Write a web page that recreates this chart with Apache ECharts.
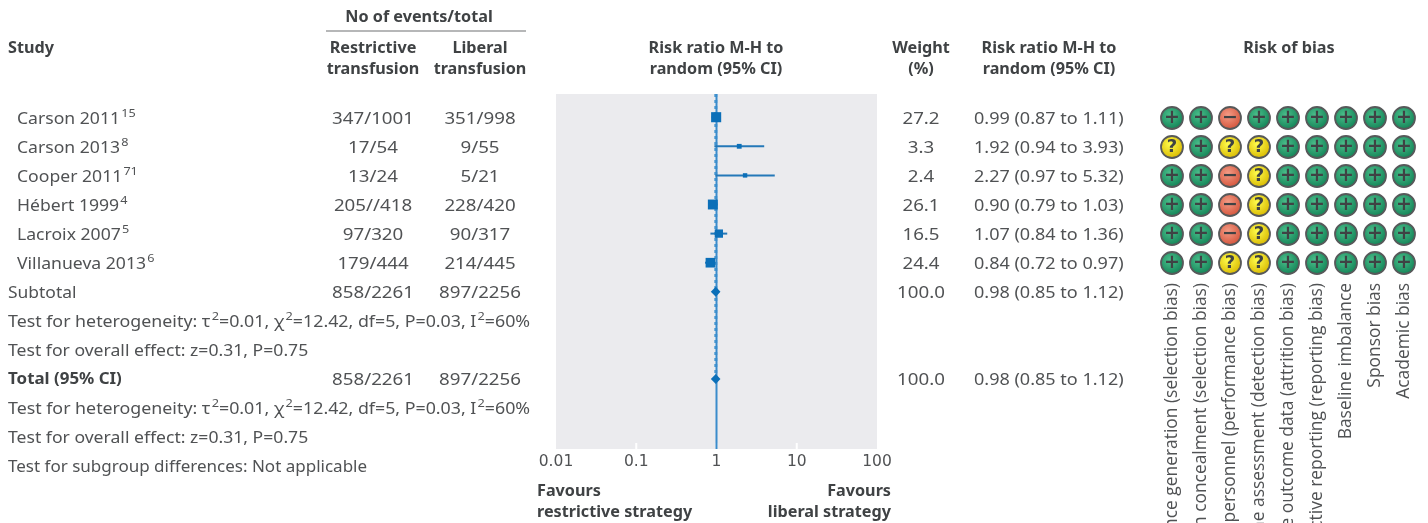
<!DOCTYPE html>
<html><head><meta charset="utf-8">
<style>html,body{margin:0;padding:0;background:#fff}#c{width:1428px;height:523px}</style>
<script src="https://cdn.jsdelivr.net/npm/echarts@6/dist/echarts.min.js"></script>
</head><body><div id="c"></div>
<script>
const studies = ['Carson 2011','Carson 2013','Cooper 2011','Hébert 1999','Lacroix 2007','Villanueva 2013'];
const refs = ['15','8','71','4','5','6'];
const restrictive = ['347/1001','17/54','13/24','205//418','97/320','179/444'];
const liberal = ['351/998','9/55','5/21','228/420','90/317','214/445'];
const weights = [27.2,3.3,2.4,26.1,16.5,24.4];
const rr = [0.99,1.92,2.27,0.90,1.07,0.84];
const lo = [0.87,0.94,0.97,0.79,0.84,0.72];
const hi = [1.11,3.93,5.32,1.03,1.36,0.97];
const pooled = [[6,0.98,0.85,1.12],[9,0.98,0.85,1.12]];
const domains = ['Random sequence generation (selection bias)','Allocation concealment (selection bias)','Blinding of participants and personnel (performance bias)','Blinding of outcome assessment (detection bias)','Incomplete outcome data (attrition bias)','Selective reporting (reporting bias)','Baseline imbalance','Sponsor bias','Academic bias'];
const bias = ['++-++++++','?+??+++++','++-?+++++','++-?+++++','++-?+++++','++??+++++'];
const hetero = 'Test for heterogeneity: τ{sup|2}=0.01, χ{sup|2}=12.42, df=5, P=0.03, I{sup|2}=60%';
const overall = 'Test for overall effect: z=0.31, P=0.75';
const subgroup = 'Test for subgroup differences: Not applicable';
const ticks = [0.01,0.1,1,10,100];

const FONT='"Noto Sans"', TXT='#505254', BOLD='#3f4244', BLUE='#0b6fb8';
const rowH=29.1, row0=117.2, gridTop=94, gridBottom=449;
const ty=i=>119+29*i;
const g=[];
const S_NUM=1.17, S_CI=1.127, S_TXT=1.10, S_BOLD=1.045;
function t(text,x,y,align,bold,sx){
  g.push({type:'text',silent:true,x,y,scaleX:sx||(bold?S_BOLD:S_TXT),style:{text,align:align||'left',verticalAlign:'middle',
    fontFamily:FONT,fontSize:bold?15.5:16,fontWeight:bold?700:400,fill:bold?BOLD:TXT,
    rich:{sup:{fontFamily:FONT,fontSize:11.5,fill:TXT,verticalAlign:'top',lineHeight:22,padding:[0,0,0,1]}},lineHeight:22}});
}
t('No of events/total',419,18,'center',1);
t('Study',8,49,'left',1);
t('Restrictive',373,49,'center',1); t('transfusion',373,70,'center',1);
t('Liberal',480,49,'center',1); t('transfusion',480,70,'center',1);
t('Risk ratio M-H to',716,49,'center',1); t('random (95% CI)',716,70,'center',1);
t('Weight',921,49,'center',1); t('(%)',921,70,'center',1);
t('Risk ratio M-H to',1049,49,'center',1); t('random (95% CI)',1049,70,'center',1);
t('Risk of bias',1289,49,'center',1);
g.push({type:'line',silent:true,shape:{x1:326,y1:31,x2:526,y2:31},style:{stroke:'#6f7173',lineWidth:1.2}});
const f2=v=>v.toFixed(2);
const ci=(m,a,b)=>`${f2(m)} (${f2(a)} to ${f2(b)})`;
studies.forEach((s,i)=>{
  t(`${s}{sup|${refs[i]}}`,17,ty(i));
  t(restrictive[i],373,ty(i),'center',0,S_NUM);
  t(liberal[i],480,ty(i),'center',0,S_NUM);
  t(weights[i].toFixed(1),921,ty(i),'center',0,S_NUM);
  t(ci(rr[i],lo[i],hi[i]),974,ty(i),'left',0,S_CI);
});
t('Subtotal',8,ty(6),'left',0,1.09);
t('858/2261',373,ty(6),'center',0,S_NUM); t('897/2256',480,ty(6),'center',0,S_NUM);
t('100.0',921,ty(6),'center',0,S_NUM); t(ci(0.98,0.85,1.12),974,ty(6),'left',0,S_CI);
t(hetero,8,ty(7),'left',0,1.112); t(overall,8,ty(8),'left',0,1.10);
t('Total (95% CI)',8,ty(9),'left',1,1.09);
t('858/2261',373,ty(9),'center',0,S_NUM); t('897/2256',480,ty(9),'center',0,S_NUM);
t('100.0',921,ty(9),'center',0,S_NUM); t(ci(0.98,0.85,1.12),974,ty(9),'left',0,S_CI);
t(hetero,8,ty(10),'left',0,1.112); t(overall,8,ty(11),'left',0,1.10); t(subgroup,8,ty(12),'left',0,1.063);
t('Favours',537,492,'left',1); t('restrictive strategy',537,513,'left',1);
t('Favours',891,492,'right',1); t('liberal strategy',891,513,'right',1);

const yMin=(gridTop-row0)/rowH, yMax=(gridBottom-row0)/rowH;
const grad=(a,b)=>({type:'radial',x:0.42,y:0.38,r:0.62,colorStops:[{offset:0,color:a},{offset:1,color:b}]});
const fills={'+':grad('#4cc08c','#128256'),'?':grad('#fffc4d','#d8b800'),'-':grad('#f39c86','#d4533a')};
const marks={'+':['+',19],'?':['?',18],'-':['−',19]};
const biasData=[];
bias.forEach((r,i)=>[...r].forEach((c,j)=>biasData.push({value:[j,i],itemStyle:{color:fills[c]},label:{formatter:marks[c][0],fontSize:marks[c][1]}})));

const chart=echarts.init(document.getElementById('c'),null,{renderer:'canvas'});
chart.setOption({
  animation:false,
  graphic:g,
  grid:[
    {left:556,width:321,top:gridTop,height:gridBottom-gridTop,show:true,backgroundColor:'#ebebee',borderWidth:0,outerBoundsMode:'none'},
    {left:1157.5,width:261,top:103.5,height:174,show:false,outerBoundsMode:'none'}
  ],
  xAxis:[
    {type:'log',logBase:10,min:ticks[0],max:ticks[ticks.length-1],gridIndex:0,position:'bottom',
      axisLine:{show:false,onZero:false},splitLine:{show:false},minorTick:{show:false},axisTick:{show:false},
      axisLabel:{fontFamily:'"DejaVu Sans"',fontSize:15.5,color:TXT,margin:5,showMinLabel:true,showMaxLabel:true,hideOverlap:false,formatter:v=>String(v)}},
    {type:'category',gridIndex:1,data:domains,axisLine:{show:false,onZero:false},axisTick:{show:false},splitLine:{show:false},
      axisLabel:{interval:0,rotate:90,margin:5.5,fontFamily:'"Open Sans"',fontSize:17.4,color:TXT}}
  ],
  yAxis:[
    {type:'value',inverse:true,min:yMin,max:yMax,gridIndex:0,show:false,splitLine:{show:false}},
    {type:'category',inverse:true,gridIndex:1,data:studies,show:false}
  ],
  series:[
    {type:'custom',xAxisIndex:0,yAxisIndex:0,z:1,data:ticks.slice(1,-1).map(v=>[v,yMax]),encode:{x:0,y:1},
      renderItem:(p,api)=>{const a=api.coord([api.value(0),api.value(1)]);
        return {type:'line',shape:{x1:a[0],y1:a[1],x2:a[0],y2:a[1]-6},style:{stroke:'#fff',lineWidth:2}};}},
    {type:'line',xAxisIndex:0,yAxisIndex:0,data:[[0.98,yMin],[0.98,9]],showSymbol:false,lineStyle:{color:'#4d9bd2',width:3,type:[3,3]},z:2},
    {type:'line',xAxisIndex:0,yAxisIndex:0,data:[[1,yMin],[1,yMax]],showSymbol:false,lineStyle:{color:'#3a8ccb',width:2},z:3},
    {type:'custom',xAxisIndex:0,yAxisIndex:0,z:4,data:lo.map((a,i)=>[a,hi[i],i]),encode:{x:[0,1],y:2},
      renderItem:(p,api)=>{const a=api.coord([api.value(0),api.value(2)]),b=api.coord([api.value(1),api.value(2)]);
        return {type:'line',shape:{x1:a[0],y1:a[1],x2:b[0],y2:b[1]},style:{stroke:'#2478b8',lineWidth:2}};}},
    {type:'scatter',xAxisIndex:0,yAxisIndex:0,z:5,symbol:'rect',data:rr.map((v,i)=>[v,i,weights[i]]),
      symbolSize:d=>2+1.55*Math.sqrt(d[2]),itemStyle:{color:BLUE,opacity:1}},
    {type:'custom',xAxisIndex:0,yAxisIndex:0,z:5,data:pooled,encode:{x:[1,2,3],y:0},
      renderItem:(p,api)=>{const r=api.value(0),m=api.coord([api.value(1),r]),a=api.coord([api.value(2),r]),b=api.coord([api.value(3),r]);
        return {type:'polygon',shape:{points:[[a[0],m[1]],[m[0],m[1]-5],[b[0],m[1]],[m[0],m[1]+5]]},style:{fill:BLUE}};}},
    {type:'scatter',xAxisIndex:1,yAxisIndex:1,symbol:'circle',symbolSize:22,data:biasData,
      itemStyle:{borderColor:'#57595a',borderWidth:1.8,opacity:1},
      label:{show:true,position:'inside',fontFamily:'"DejaVu Sans"',fontWeight:700,color:'#3f4244'}}
  ]
});
</script></body></html>
